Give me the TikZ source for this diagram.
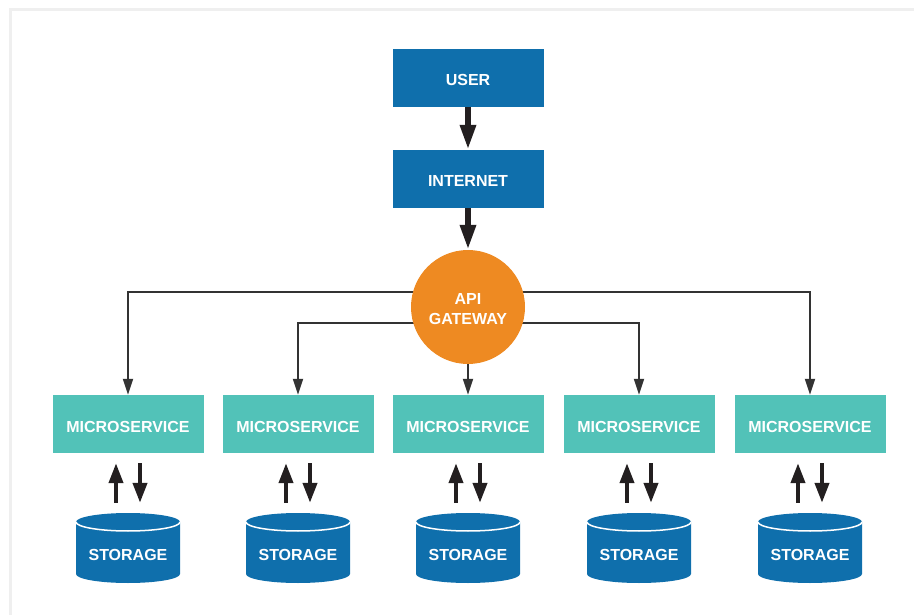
\documentclass[tikz,border=0pt]{standalone}
\usepackage{fontspec}
\setmainfont{Liberation Sans}[BoldFont={Liberation Sans Bold}]
\usetikzlibrary{arrows.meta,calc,backgrounds}
\definecolor{ublue}{HTML}{0F6FAC}
\definecolor{uteal}{HTML}{52C2B8}
\definecolor{uorange}{HTML}{EE8A22}
\definecolor{ulines}{HTML}{333333}
\definecolor{uarrow}{HTML}{231F20}
\definecolor{uframe}{HTML}{EFEFEF}
\tikzset{
  lbl/.style={text=white,font=\fontsize{16}{19}\selectfont\bfseries},
  bluebox/.style={lbl,fill=ublue,minimum width=151pt,inner sep=0pt,text height=37pt,text depth=21pt},
  msbox/.style={lbl,fill=uteal,minimum width=151pt,inner sep=0pt,text height=37pt,text depth=21pt},
  gwnode/.style={circle,fill=uorange,minimum size=114pt,inner sep=0pt},
  gwtext/.style={lbl,align=center,font=\fontsize{16}{20}\selectfont\bfseries,yshift=-2pt},
  stornode/.style={lbl,minimum width=104pt,inner sep=0pt,text height=47pt,text depth=23pt},
  bigarrow/.style={draw=uarrow,line width=6pt,-{Triangle[length=25pt,width=15pt]}},
  smallarrow/.style={draw=uarrow,line width=4pt,-{Triangle[length=20pt,width=14pt]},shorten <=10pt,shorten >=10pt},
  conn/.style={draw=ulines,line width=1.8pt,-{Triangle[length=16pt,width=10pt]}}
}
\begin{document}
\begin{tikzpicture}[x=1pt,y=-1pt]
\useasboundingbox (0,0) rectangle (914,615);
\draw[uframe,line width=3pt] (10,620) -- (10,9.5) -- (920,9.5);
% nodes
\node[bluebox] (user) at (468,78) {USER};
\node[bluebox] (inet) at (468,179) {INTERNET};
\node[gwnode,label={[gwtext]center:API\\GATEWAY}] (gw) at (468,307) {};
\foreach \i/\x in {1/128,2/298,3/468,4/639,5/810}{
  \node[msbox] (m\i) at (\x,424) {MICROSERVICE};
  \fill[ublue] (\x-52,522) -- (\x-52,574) arc[start angle=180,end angle=0,x radius=52,y radius=9]
     -- (\x+52,522) arc[start angle=0,end angle=-180,x radius=52,y radius=9] -- cycle;
  \draw[white,line width=1.5pt] (\x-52,522) arc[start angle=180,end angle=0,x radius=52,y radius=9];
  \node[stornode] (s\i) at (\x,548) {STORAGE};
  \draw[smallarrow] ([xshift=-12pt]s\i.north) -- ([xshift=-12pt]m\i.south);
  \draw[smallarrow] ([xshift=12pt]m\i.south) -- ([xshift=12pt]s\i.north);
}
% connectors
\draw[bigarrow] (user) -- (inet);
\draw[bigarrow] (inet) -- (gw);
\begin{scope}[on background layer]
\draw[conn] ($(gw.center)+(0,-15)$) -| (m1.north);
\draw[conn] ($(gw.center)+(0,-15)$) -| (m5.north);
\draw[conn] ($(gw.center)+(0,16)$) -| (m2.north);
\draw[conn] ($(gw.center)+(0,16)$) -| (m4.north);
\end{scope}
\draw[conn] (gw) -- (m3);
\end{tikzpicture}
\end{document}
